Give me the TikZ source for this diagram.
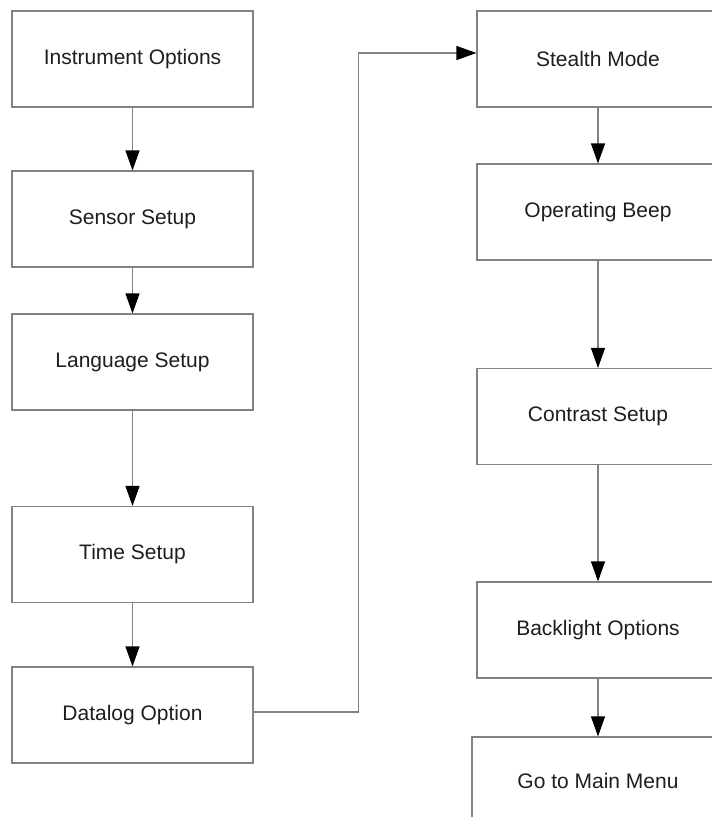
\documentclass[tikz,border=0pt]{standalone}
\usepackage{fontspec}
\setmainfont{Liberation Sans}
\usetikzlibrary{arrows.meta,positioning}
\definecolor{box-draw}{RGB}{130,130,130}
\definecolor{box-text}{RGB}{30,30,30}

\begin{document}
\begin{tikzpicture}[
 x=1pt, y=-1pt,
 menubox/.style={draw=box-draw, line width=1.1pt, minimum width=241pt, minimum height=96pt,
   inner sep=0pt, text=box-text, font=\fontsize{21}{25}\selectfont},
 flow/.style={box-draw, line width=1.1pt, -{Triangle[length=20pt,width=14pt,color=black]}},
]
 \useasboundingbox (0,0) rectangle (712,817);
 % left column
 \node[menubox] (inst) at (132.5,59) {Instrument Options};
 \node[menubox] (sens) at (132.5,219) {Sensor Setup};
 \node[menubox] (lang) at (132.5,362) {Language Setup};
 \node[menubox] (time) at (132.5,554.5) {Time Setup};
 \node[menubox] (dlog) at (132.5,715) {Datalog Option};
 % right column (runs past the page edge)
 \node[menubox, minimum width=242pt] (stealth) at (598,59) {Stealth Mode};
 \node[menubox, minimum width=242pt] (beep) at (598,212) {Operating Beep};
 \node[menubox, minimum width=242pt] (contr) at (598,416.5) {Contrast Setup};
 \node[menubox, minimum width=242pt] (blight) at (598,630) {Backlight Options};
 \node[menubox, minimum width=252pt, minimum height=88pt] (mainmenu) at (598,781) {Go to Main Menu};
 % connectors
 \draw[flow] (inst) -- (sens);
 \draw[flow] (sens) -- (lang);
 \draw[flow] (lang) -- (time);
 \draw[flow] (time) -- (dlog);
 \draw[flow] ([yshift=3pt]dlog.east) -- ++(105,0) |- ([yshift=6pt]stealth.west);
 \draw[flow] (stealth) -- (beep);
 \draw[flow] (beep) -- (contr);
 \draw[flow] (contr) -- (blight);
 \draw[flow] (blight) -- (mainmenu);
\end{tikzpicture}
\end{document}
